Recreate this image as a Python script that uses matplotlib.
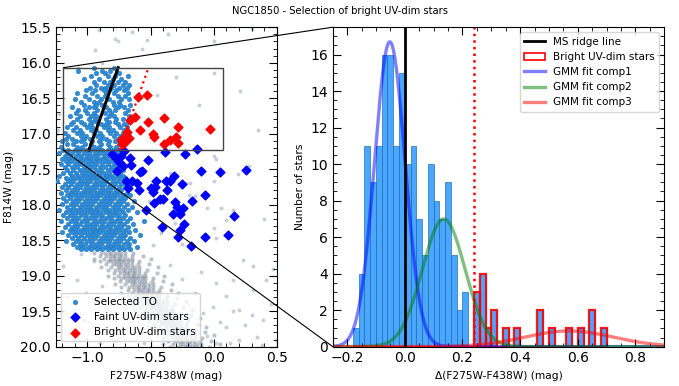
import numpy as np
import matplotlib.pyplot as plt
from matplotlib.patches import Rectangle, ConnectionPatch, Patch
from matplotlib.lines import Line2D
from matplotlib.ticker import AutoMinorLocator

# ---------------- data: left panel (CMD) ----------------
# selected turn-off stars, read row by row: (F814W, [colours])
to_rows = [
    (16.08, [-0.95, -0.79]),
    (16.11, [-1.07, -0.88, -0.82]),
    (16.15, [-0.93, -0.86, -0.75]),
    (16.19, [-0.97, -0.84, -0.68, -0.78]),
    (16.23, [-0.91, -0.80, -0.73, -1.03]),
    (16.27, [-0.95, -0.87, -0.76, -0.70, -0.82]),
    (16.31, [-0.93, -0.84, -0.79, -0.72, -0.67]),
    (16.35, [-0.98, -0.89, -0.81, -0.75, -0.69, -0.86]),
    (16.39, [-0.94, -0.87, -0.83, -0.77, -0.71, -1.01]),
    (16.43, [-1.08, -0.96, -0.85, -0.79, -0.68]),
    (16.47, [-1.02, -0.92, -0.86, -0.76, -0.70]),
    (16.51, [-1.10, -0.99, -0.89, -0.83, -0.73, -0.67]),
    (16.55, [-1.05, -0.95, -0.91, -0.80, -0.75]),
    (16.59, [-1.03, -0.93, -0.88, -0.79, -0.74, -0.66]),
    (16.63, [-1.12, -0.99, -0.95, -0.85, -0.76, -0.71]),
    (16.67, [-1.07, -1.02, -0.92, -0.83, -0.78, -0.68]),
    (16.71, [-1.09, -1.00, -0.95, -0.86, -0.81, -0.70]),
    (16.75, [-1.14, -1.06, -0.97, -0.93, -0.83, -0.79, -0.67]),
    (16.79, [-1.08, -0.99, -0.94, -0.85, -0.77, -0.72]),
    (16.83, [-1.11, -1.05, -0.96, -0.92, -0.83, -0.78, -0.68]),
    (16.87, [-1.13, -1.03, -0.98, -0.89, -0.85, -0.76, -0.71]),
    (16.91, [-1.16, -1.09, -1.00, -0.96, -0.87, -0.83, -0.74, -0.69]),
    (16.95, [-1.11, -1.06, -0.97, -0.93, -0.84, -0.80, -0.71]),
    (16.99, [-1.18, -1.08, -1.04, -0.95, -0.90, -0.82, -0.77, -0.72]),
    (17.03, [-1.15, -1.05, -1.01, -0.92, -0.88, -0.79, -0.74]),
    (17.07, [-1.17, -1.12, -1.03, -0.98, -0.89, -0.85, -0.76]),
    (17.11, [-1.20, -1.09, -1.05, -0.96, -0.91, -0.83, -0.78]),
    (17.15, [-1.16, -1.11, -1.02, -0.97, -0.89, -0.84, -0.75]),
    (17.19, [-1.21, -1.08, -1.04, -0.95, -0.91, -0.82, -0.77]),
    (17.23, [-1.19, -1.15, -1.10, -1.06, -1.01, -0.97, -0.92, -0.88, -0.84, -0.79, -0.75]),
    (17.27, [-1.22, -1.16, -1.12, -1.07, -1.03, -0.99, -0.94, -0.90, -0.86, -0.81, -0.77]),
    (17.31, [-1.18, -1.14, -1.09, -1.05, -1.00, -0.96, -0.92, -0.87, -0.83, -0.79]),
    (17.35, [-1.20, -1.15, -1.11, -1.06, -1.02, -0.98, -0.93, -0.89, -0.85, -0.80]),
    (17.39, [-1.17, -1.13, -1.08, -1.04, -0.99, -0.95, -0.91, -0.86, -0.82, -0.78]),
    (17.43, [-1.21, -1.15, -1.10, -1.06, -1.01, -0.97, -0.93, -0.88, -0.84, -0.79, -0.75]),
    (17.47, [-1.18, -1.12, -1.08, -1.03, -0.99, -0.95, -0.90, -0.86, -0.81, -0.77]),
    (17.51, [-1.16, -1.11, -1.06, -1.02, -0.98, -0.93, -0.89, -0.84, -0.80, -0.76, -0.72]),
    (17.55, [-1.19, -1.14, -1.09, -1.04, -1.00, -0.96, -0.91, -0.87, -0.83, -0.78, -0.74]),
    (17.59, [-1.22, -1.12, -1.07, -1.03, -0.98, -0.94, -0.90, -0.85, -0.81, -0.76, -0.72]),
    (17.63, [-1.17, -1.13, -1.09, -1.05, -1.00, -0.96, -0.92, -0.87, -0.83, -0.79, -0.74, -0.70]),
    (17.67, [-1.24, -1.15, -1.11, -1.06, -1.02, -0.98, -0.93, -0.89, -0.85, -0.80, -0.76, -0.71]),
    (17.71, [-1.18, -1.13, -1.08, -1.04, -1.00, -0.95, -0.91, -0.87, -0.82, -0.78, -0.73]),
    (17.75, [-1.20, -1.15, -1.10, -1.06, -1.01, -0.97, -0.93, -0.88, -0.84, -0.80, -0.75, -0.70]),
    (17.79, [-1.17, -1.12, -1.08, -1.03, -0.99, -0.95, -0.90, -0.86, -0.82, -0.77, -0.73]),
    (17.83, [-1.21, -1.14, -1.10, -1.05, -1.01, -0.97, -0.92, -0.88, -0.84, -0.79, -0.75, -0.69]),
    (17.87, [-1.16, -1.12, -1.07, -1.03, -0.98, -0.94, -0.90, -0.85, -0.81, -0.77, -0.72, -0.66]),
    (17.91, [-1.19, -1.14, -1.09, -1.05, -1.00, -0.96, -0.92, -0.87, -0.83, -0.79, -0.74, -0.70]),
    (17.95, [-1.17, -1.11, -1.07, -1.02, -0.98, -0.94, -0.89, -0.85, -0.81, -0.76, -0.72, -0.63]),
    (17.99, [-1.20, -1.13, -1.09, -1.04, -1.00, -0.96, -0.91, -0.87, -0.83, -0.78, -0.74, -0.69]),
    (18.03, [-1.16, -1.11, -1.06, -1.02, -0.98, -0.93, -0.89, -0.85, -0.80, -0.76, -0.71, -0.65]),
    (18.07, [-1.22, -1.14, -1.09, -1.05, -1.00, -0.96, -0.92, -0.87, -0.83, -0.78, -0.74, -0.68]),
    (18.11, [-1.17, -1.12, -1.07, -1.03, -0.98, -0.94, -0.90, -0.85, -0.81, -0.77, -0.72, -0.61]),
    (18.15, [-1.19, -1.14, -1.10, -1.05, -1.01, -0.96, -0.92, -0.88, -0.83, -0.79, -0.75, -0.70]),
    (18.19, [-1.16, -1.11, -1.07, -1.02, -0.98, -0.94, -0.89, -0.85, -0.81, -0.76, -0.72, -0.66]),
    (18.23, [-1.21, -1.13, -1.09, -1.04, -1.00, -0.95, -0.91, -0.87, -0.82, -0.78, -0.74, -0.69, -0.55]),
    (18.27, [-1.15, -1.10, -1.06, -1.01, -0.97, -0.93, -0.88, -0.84, -0.80, -0.75, -0.71, -0.64]),
    (18.31, [-1.18, -1.12, -1.08, -1.03, -0.99, -0.95, -0.90, -0.86, -0.82, -0.77, -0.73, -0.68]),
    (18.35, [-1.14, -1.10, -1.05, -1.01, -0.96, -0.92, -0.88, -0.83, -0.79, -0.75, -0.70, -0.62]),
    (18.39, [-1.20, -1.12, -1.07, -1.03, -0.98, -0.94, -0.90, -0.85, -0.81, -0.77, -0.72, -0.67]),
    (18.43, [-1.15, -1.10, -1.05, -1.00, -0.96, -0.92, -0.87, -0.83, -0.79, -0.74, -0.70, -0.58]),
    (18.47, [-1.12, -1.07, -1.03, -0.98, -0.94, -0.89, -0.85, -0.81, -0.76, -0.72, -0.66]),
    (18.51, [-1.17, -1.09, -1.05, -1.00, -0.96, -0.91, -0.87, -0.83, -0.78, -0.74, -0.69, -0.63]),
    (18.55, [-1.11, -1.06, -1.02, -0.97, -0.93, -0.89, -0.84, -0.80, -0.76, -0.71, -0.67]),
    (18.59, [-1.08, -1.04, -0.99, -0.95, -0.91, -0.86, -0.82, -0.78, -0.73, -0.68, -0.61]),
    (18.63, [-1.05, -1.01, -0.97, -0.92, -0.88, -0.84, -0.80, -0.75, -0.71, -0.66]),
]

# lower main sequence (grey), row by row
ms_rows = [
    (18.68, [-0.95, -0.89, -0.86, -0.83, -0.81, -0.78, -0.76, -0.73, -0.70, -0.64]),
    (18.72, [-0.90, -0.85, -0.82, -0.80, -0.78, -0.75, -0.73, -0.70, -0.65, -0.56]),
    (18.76, [-0.95, -0.87, -0.82, -0.79, -0.76, -0.74, -0.71, -0.68, -0.65, -0.50]),
    (18.80, [-0.90, -0.84, -0.81, -0.78, -0.76, -0.73, -0.71, -0.68, -0.65, -0.59]),
    (18.84, [-0.85, -0.80, -0.77, -0.75, -0.73, -0.70, -0.68, -0.65, -0.60, -0.51]),
    (18.88, [-0.89, -0.81, -0.76, -0.73, -0.70, -0.68, -0.65, -0.62, -0.59, -0.44]),
    (18.92, [-0.84, -0.78, -0.75, -0.72, -0.70, -0.67, -0.65, -0.62, -0.59, -0.53]),
    (18.96, [-0.79, -0.74, -0.71, -0.69, -0.67, -0.64, -0.62, -0.59, -0.54, -0.45]),
    (19.00, [-0.84, -0.76, -0.71, -0.68, -0.65, -0.63, -0.60, -0.57, -0.54, -0.39]),
    (19.04, [-0.79, -0.73, -0.70, -0.67, -0.65, -0.62, -0.60, -0.57, -0.54, -0.48]),
    (19.08, [-0.74, -0.69, -0.66, -0.64, -0.62, -0.59, -0.57, -0.54, -0.49, -0.40]),
    (19.12, [-0.78, -0.70, -0.65, -0.62, -0.59, -0.57, -0.54, -0.51, -0.48, -0.33]),
    (19.16, [-0.73, -0.67, -0.64, -0.61, -0.59, -0.56, -0.54, -0.51, -0.48, -0.42]),
    (19.20, [-0.68, -0.63, -0.60, -0.58, -0.56, -0.53, -0.51, -0.48, -0.43, -0.34]),
    (19.24, [-0.73, -0.65, -0.60, -0.57, -0.54, -0.52, -0.49, -0.46, -0.43, -0.28]),
    (19.28, [-0.68, -0.62, -0.59, -0.56, -0.54, -0.51, -0.49, -0.46, -0.43, -0.37]),
    (19.32, [-0.63, -0.58, -0.55, -0.53, -0.51, -0.48, -0.46, -0.43, -0.38, -0.29]),
    (19.36, [-0.67, -0.59, -0.54, -0.51, -0.48, -0.46, -0.43, -0.40, -0.37, -0.22]),
    (19.40, [-0.62, -0.56, -0.53, -0.50, -0.48, -0.45, -0.43, -0.40, -0.37, -0.31]),
    (19.44, [-0.58, -0.53, -0.50, -0.48, -0.46, -0.43, -0.41, -0.38, -0.33, -0.24]),
    (19.48, [-0.62, -0.54, -0.49, -0.46, -0.43, -0.41, -0.38, -0.35, -0.32, -0.17]),
    (19.52, [-0.57, -0.51, -0.48, -0.45, -0.43, -0.40, -0.38, -0.35, -0.32, -0.26]),
    (19.56, [-0.52, -0.47, -0.44, -0.42, -0.40, -0.37, -0.35, -0.32, -0.27, -0.18]),
    (19.60, [-0.56, -0.48, -0.43, -0.40, -0.37, -0.35, -0.32, -0.29, -0.26, -0.11]),
    (19.64, [-0.51, -0.45, -0.42, -0.39, -0.37, -0.34, -0.32, -0.29, -0.26, -0.20]),
    (19.68, [-0.47, -0.42, -0.39, -0.37, -0.35, -0.32, -0.30, -0.27, -0.22, -0.13]),
    (19.72, [-0.51, -0.43, -0.38, -0.35, -0.32, -0.30, -0.27, -0.24, -0.21, -0.06]),
    (19.76, [-0.46, -0.40, -0.37, -0.34, -0.32, -0.29, -0.27, -0.24, -0.21, -0.15]),
    (19.80, [-0.41, -0.36, -0.33, -0.31, -0.29, -0.26, -0.24, -0.21, -0.16, -0.07]),
    (19.84, [-0.45, -0.37, -0.32, -0.29, -0.26, -0.24, -0.21, -0.18, -0.15, 0.00]),
    (19.88, [-0.40, -0.34, -0.31, -0.28, -0.26, -0.23, -0.21, -0.18, -0.15, -0.09]),
    (19.92, [-0.36, -0.31, -0.28, -0.26, -0.24, -0.21, -0.19, -0.16, -0.11, -0.02]),
    (19.96, [-0.40, -0.32, -0.27, -0.24, -0.21, -0.19, -0.16, -0.13, -0.10, 0.05]),
    (20.00, [-0.35, -0.29, -0.26, -0.23, -0.21, -0.18, -0.16, -0.13, -0.10, -0.04]),
]

# scattered field stars (grey)
field_x = [-0.91, -0.65, -0.78, -0.76, -0.53, -0.57, -0.94, 0.00, -0.36, 0.30, -1.07, 0.00,
           -0.45, -0.30, -1.22, -0.88, 0.21, -0.12, 0.35, 0.00, 0.19, 0.00, -0.22, 0.02,
           -0.35, -0.19, -0.51, 0.06, 0.15, 0.10, 0.00, -0.15, -0.31, -0.195, 0.02, -0.48,
           -0.05, 0.28, -0.42, -0.25, 0.40, 0.23, 0.31, 0.41, 0.47, 0.31, 0.15, 0.02,
           0.10, 0.20, 0.39, 0.34, 0.20, 0.13, 0.49, -0.085, -0.006, 0.10, -0.15, -0.25,
           -0.35, -0.10, 0.05, 0.25, 0.45, -0.05, 0.15, -0.20, 0.30, 0.02, 0.38, -0.12,
           -1.19, -1.08, -1.01, -1.16, -0.95, -0.85, -0.77, -0.90, -1.03, -0.69, -0.90, -1.11,
           -0.95, -1.05, -0.88, -0.70, -0.60, -0.55, -0.80, -1.20, -1.24, -1.23]
field_y = [15.54, 15.57, 15.66, 15.70, 15.68, 15.80, 15.82, 15.69, 15.60, 15.52, 16.08, 16.14,
           16.45, 16.20, 16.72, 16.00, 16.40, 16.60, 16.95, 17.32, 17.57, 17.67, 17.70, 17.35,
           17.56, 17.70, 17.95, 18.05, 18.07, 18.21, 18.33, 17.88, 18.26, 17.86, 18.47, 18.57,
           18.05, 17.45, 18.40, 18.55, 18.20, 18.78, 18.87, 19.06, 18.90, 19.20, 19.06, 19.11,
           19.29, 19.48, 19.62, 19.86, 19.91, 19.95, 19.91, 19.53, 19.44, 19.72, 19.25, 19.05,
           18.85, 18.95, 19.65, 19.70, 19.40, 19.85, 19.50, 19.40, 19.55, 19.95, 19.98, 19.70,
           18.87, 19.06, 19.25, 19.30, 19.53, 19.76, 19.91, 19.39, 19.62, 19.72, 19.95, 19.91,
           18.80, 18.70, 19.15, 19.45, 19.80, 19.95, 19.60, 19.50, 17.00, 16.95]

faint_x = [-0.808, -0.777, -0.737, -0.711, -0.664, -0.519, -0.387, -0.229, -0.129, -0.750,
           -0.721, -0.769, -0.658, -0.585, -0.564, -0.103, 0.047, 0.257, -0.695, -0.650,
           -0.611, -0.682, -0.590, -0.453, -0.374, -0.316, -0.348, -0.248, -0.493, -0.466,
           -0.479, -0.369, -0.427, -0.472, -0.400, -0.069, -0.169, -0.303, -0.287, -0.243,
           -0.537, -0.319, -0.264, 0.157, -0.408, -0.237, -0.269, -0.282, -0.069, 0.112, -0.177]
faint_y = [17.28, 17.34, 17.31, 17.25, 17.34, 17.37, 17.26, 17.29, 17.22, 17.40,
           17.46, 17.53, 17.44, 17.54, 17.53, 17.52, 17.54, 17.51, 17.66, 17.66,
           17.70, 17.77, 17.79, 17.67, 17.67, 17.59, 17.66, 17.71, 17.77, 17.75,
           17.82, 17.79, 17.92, 17.97, 17.92, 17.87, 17.95, 17.96, 18.03, 18.05,
           18.07, 18.13, 18.13, 18.16, 18.31, 18.27, 18.36, 18.46, 18.46, 18.43, 18.58]

bright_x = [-0.598, -0.529, -0.664, -0.624, -0.524, -0.390, -0.585, -0.477, -0.472, -0.285,
            -0.027, -0.301, -0.279, -0.395, -0.348, -0.693, -0.674, -0.716, -0.729, -0.706,
            -0.737, -0.685]
bright_y = [16.49, 16.45, 16.81, 16.77, 16.84, 16.78, 16.95, 17.01, 17.04, 16.91,
            16.93, 17.04, 17.13, 17.14, 17.09, 17.02, 17.06, 17.11, 17.15, 17.13,
            17.09, 16.98]

# MS ridge line inside the selection box, and the 0.24 mag cut
ridge_x = [-0.987, -0.756]
ridge_y = [17.23, 16.07]
cut = 0.24
box_x = [-1.19, 0.075]
box_y = [16.07, 17.23]

# ---------------- data: right panel (histogram) ----------------
bin_width = 0.02
bin_start = -0.18
all_counts = [1, 4, 11, 9, 11, 16, 16, 11, 15, 10, 11, 7, 5, 10, 8, 7, 9, 5, 2, 3, 0,
              3, 4, 1, 2, 0, 1, 0, 1, 0, 0, 0, 2, 0, 1, 0, 0, 1, 0, 1, 0, 2, 0, 1]
bright_counts = [0] * 21 + all_counts[21:]

gmm_mu = [-0.052, 0.135, 0.57]
gmm_sigma = [0.053, 0.074, 0.153]
gmm_peak = [16.7, 7.0, 0.86]
gmm_colors = ['blue', 'green', 'red']

# ---------------- figure ----------------
to_x = [x for y, xs in to_rows for x in xs]
to_y = [y for y, xs in to_rows for x in xs]
ms_x = [x for y, xs in ms_rows for x in xs]
ms_y = [y for y, xs in ms_rows for x in xs]

fig = plt.figure(figsize=(6.79, 3.86), dpi=100)
ax1 = fig.add_axes([0.082, 0.102, 0.326, 0.8275])
ax2 = fig.add_axes([0.490, 0.102, 0.4884, 0.8275])

grey = '#7a8799'
ax1.scatter(ms_x, ms_y, s=9, color=grey, alpha=0.5, lw=0)
ax1.scatter(field_x, field_y, s=8, color=grey, alpha=0.4, lw=0)
ax1.scatter(to_x, to_y, s=11, color='#2e8ddb', edgecolors='#1d6eb0', linewidths=0.3,
            label='Selected TO', zorder=3)
ax1.scatter(faint_x, faint_y, s=20, marker='D', color='blue', label='Faint UV-dim stars', zorder=4)
ax1.plot(np.array(ridge_x) + cut, ridge_y, ':', color='red', lw=1.6, zorder=4)
ax1.scatter(bright_x, bright_y, s=20, marker='D', color='red', label='Bright UV-dim stars', zorder=5)
ax1.plot(ridge_x, ridge_y, color='black', lw=2.2, zorder=6)
ax1.add_patch(Rectangle((box_x[0], box_y[0]), box_x[1] - box_x[0], box_y[1] - box_y[0],
                        fill=False, edgecolor='#444444', lw=1.0, zorder=6))

ax1.set_xlim(-1.25, 0.5)
ax1.set_ylim(20.0, 15.5)
ax1.set_xlabel('F275W-F438W (mag)', fontsize=7.7)
ax1.set_ylabel('F814W (mag)', fontsize=7.7)
ax1.legend(loc='lower left', fontsize=7.5, markerscale=1.0)

# histogram
lefts = bin_start + bin_width * np.arange(len(all_counts))
ax2.bar(lefts, all_counts, width=bin_width, align='edge', color='dodgerblue', alpha=0.8,
        edgecolor='#1f6fb4', linewidth=0.6)
ax2.bar(lefts, bright_counts, width=bin_width, align='edge', fill=False,
        edgecolor='red', linewidth=1.6, alpha=0.9)

xg = np.linspace(-0.25, 0.9, 400)
for mu, sg, pk, c in zip(gmm_mu, gmm_sigma, gmm_peak, gmm_colors):
    ax2.plot(xg, pk * np.exp(-0.5 * ((xg - mu) / sg) ** 2), color=c, alpha=0.5, lw=2.4)

ax2.axvline(0.0, color='black', lw=2)
ax2.axvline(cut, color='red', ls=':', lw=1.8)

ax2.set_xlim(-0.25, 0.9)
ax2.set_ylim(0, 17.5)
ax2.set_xlabel('Δ(F275W-F438W) (mag)', fontsize=7.7)
ax2.set_ylabel('Number of stars', fontsize=7.7)

handles = [Line2D([], [], color='black', lw=2),
           Patch(facecolor='none', edgecolor='red', lw=1.2),
           Line2D([], [], color='blue', alpha=0.5, lw=2.4),
           Line2D([], [], color='green', alpha=0.5, lw=2.4),
           Line2D([], [], color='red', alpha=0.5, lw=2.4)]
labels = ['MS ridge line', 'Bright UV-dim stars', 'GMM fit comp1', 'GMM fit comp2', 'GMM fit comp3']
ax2.legend(handles, labels, loc='upper right', fontsize=7.5)

for ax in (ax1, ax2):
    ax.xaxis.set_minor_locator(AutoMinorLocator())
    ax.yaxis.set_minor_locator(AutoMinorLocator())
    ax.tick_params(which='both', direction='in', top=True, right=True, labelsize=10)
    ax.tick_params(which='major', length=6)
    ax.tick_params(which='minor', length=3)

# zoom connectors from the selection box to the histogram panel
for yb, fy in ((box_y[0], 1.0), (box_y[1], 0.0)):
    con = ConnectionPatch(xyA=(box_x[0], yb), coordsA=ax1.transData,
                          xyB=(0.0, fy), coordsB=ax2.transAxes, color='black', lw=0.8)
    fig.add_artist(con)

fig.suptitle('NGC1850 - Selection of bright UV-dim stars', fontsize=7.2, y=0.985)
fig.savefig('out.png', dpi=100)
